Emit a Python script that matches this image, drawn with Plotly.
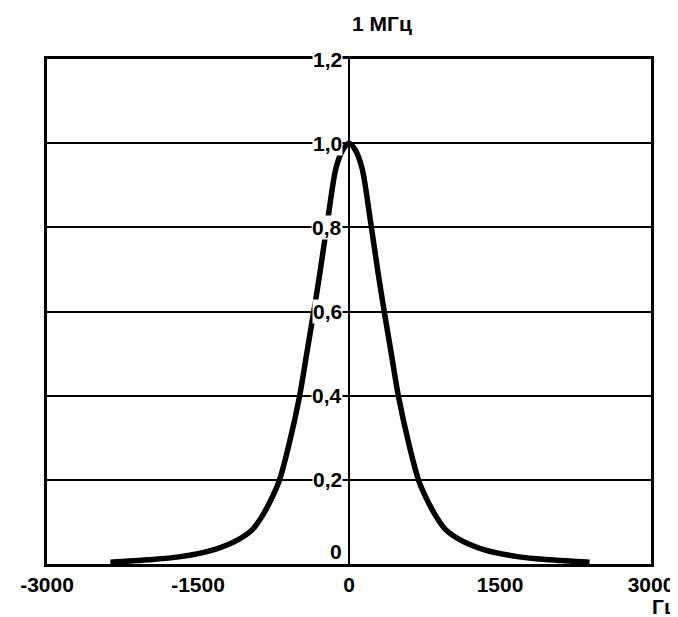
import plotly.graph_objects as go

# spectrum shape (Hz vs relative level)
freq = [-2370, -2000, -1690, -1330, -1100, -955, -860, -760, -690, -600, -490,
        -420, -350, -290, -210, -130, -60, 0, 60, 130, 210, 290, 350, 420, 490,
        600, 690, 760, 860, 955, 1100, 1330, 1690, 2000, 2390]
level = [0.004, 0.010, 0.017, 0.035, 0.058, 0.083, 0.115, 0.16, 0.20, 0.28,
         0.40, 0.50, 0.60, 0.69, 0.82, 0.94, 0.985, 1.0, 0.985, 0.94, 0.82, 0.69,
         0.60, 0.50, 0.40, 0.28, 0.20, 0.16, 0.115, 0.083, 0.058, 0.035, 0.017,
         0.010, 0.004]

x_ticks = [-3000, -1500, 0, 1500, 3000]
x_tick_text = ["-3000", "-1500", "0", "1500", "3000"]
y_ticks = [0, 0.2, 0.4, 0.6, 0.8, 1.0, 1.2]
y_tick_text = ["0", "0,2", "0,4", "0,6", "0,8", "1,0", "1,2"]

FONT = "Liberation Sans, Arial, sans-serif"
TXT = dict(family=FONT, size=21, color="black", weight="bold")

fig = go.Figure()
fig.add_trace(go.Scatter(
    x=freq, y=level, mode="lines",
    line=dict(color="black", width=5.5, shape="spline", smoothing=0.8),
    showlegend=False, hoverinfo="skip"))

# y labels sit on the centre axis with a white box breaking the grid lines
annotations = []
for v, t in zip(y_ticks, y_tick_text):
    annotations.append(dict(
        x=0, y=v, xref="x", yref="y", text=t, showarrow=False,
        xanchor="right", yanchor="bottom" if v == 0 else "middle",
        xshift=-6, yshift=0,
        bgcolor="white", borderpad=0, font=TXT))

annotations.append(dict(
    x=0.555, y=1, xref="paper", yref="paper", yanchor="bottom", yshift=22,
    text="1 МГц", showarrow=False, font=TXT))
annotations.append(dict(
    x=1.023, y=0, xref="paper", yref="paper", xanchor="center", yanchor="top",
    yshift=-29, text="Гц", showarrow=False, font=TXT))

fig.update_layout(
    width=678, height=617,
    margin=dict(l=30, r=35, t=51, b=61),
    plot_bgcolor="white", paper_bgcolor="white",
    annotations=annotations,
    xaxis=dict(range=[-3000, 3000], tickvals=x_ticks, ticktext=x_tick_text,
               showgrid=False, zeroline=True, zerolinecolor="black",
               zerolinewidth=2, showline=True, mirror=True, linecolor="black",
               linewidth=2.5, ticks="", ticklen=0, ticklabelstandoff=0,
               tickfont=TXT),
    yaxis=dict(range=[0, 1.2], tickvals=y_ticks, showticklabels=False,
               showgrid=True, gridcolor="black", gridwidth=2, zeroline=False,
               showline=True, mirror=True, linecolor="black", linewidth=2.5,
               ticks=""),
)

fig.write_html("out.html")
